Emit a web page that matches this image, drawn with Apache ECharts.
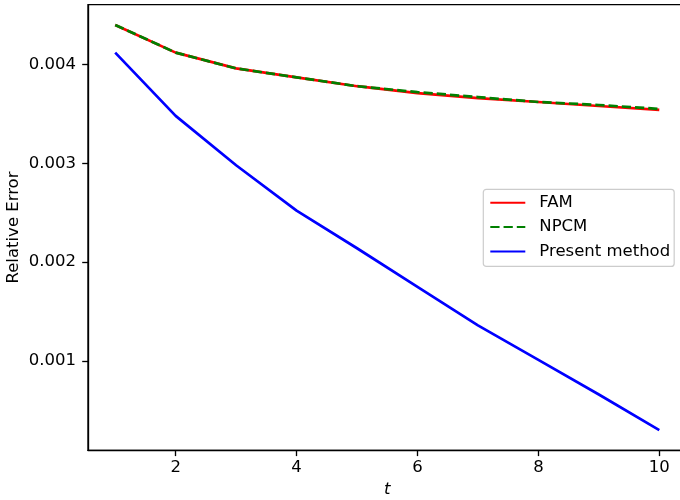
<!DOCTYPE html>
<html>
<head>
<meta charset="utf-8">
<script src="https://cdn.jsdelivr.net/npm/echarts@6/dist/echarts.min.js"></script>
<style>
html,body{margin:0;padding:0;overflow:hidden;background:#fff;width:680px;height:500px;}
#chart{width:700px;height:500px;}
</style>
</head>
<body>
<div id="chart"></div>
<script>
const tValues = [1, 2, 3, 4, 5, 6, 7, 8, 9, 10];
const famValues = [0.00440, 0.00412, 0.00396, 0.00387, 0.00378, 0.00371, 0.00366, 0.00362, 0.00358, 0.00354];
const npcmValues = [0.00440, 0.00412, 0.00396, 0.00387, 0.00378, 0.00372, 0.00367, 0.00362, 0.00359, 0.00355];
const presentValues = [0.00412, 0.00348, 0.00298, 0.00252, 0.00214, 0.00175, 0.00136, 0.00101, 0.00066, 0.00030];
const xTicks = [2, 4, 6, 8, 10];
const yTicks = [0.001, 0.002, 0.003, 0.004];
const seriesNames = ['FAM', 'NPCM', 'Present method'];

const FONT = 'DejaVu Sans';
const FS = 16.5;
const LW = 2.7;
const pairs = arr => tValues.map((t, i) => [t, arr[i]]);

const chart = echarts.init(document.getElementById('chart'), null, {renderer: 'canvas'});
chart.setOption({
  animation: false,
  backgroundColor: '#fff',
  grid: {
    left: 88, top: 4.7, width: 598.5, height: 445.6,
    containLabel: false, outerBoundsMode: 'none',
    show: true, borderColor: '#000', borderWidth: 1.33, backgroundColor: 'transparent'
  },
  legend: {
    orient: 'vertical',
    left: 483.3, top: 189.3,
    data: seriesNames,
    itemWidth: 35, itemHeight: 14, itemGap: 7.3,
    padding: [5, 4, 6.5, 6],
    borderColor: '#cccccc', borderWidth: 1.2, borderRadius: 3,
    backgroundColor: 'rgba(255,255,255,0.8)',
    itemStyle: {opacity: 0},
    textStyle: {fontFamily: FONT, fontSize: FS, color: '#000', padding: [0, 0, 0, 9]},
    selectedMode: false
  },
  xAxis: {
    type: 'value', min: 0.55, max: 10.45,
    name: 't', nameLocation: 'middle', nameGap: 31, nameMoveOverlap: false,
    nameTextStyle: {fontFamily: FONT, fontSize: FS, fontStyle: 'italic', color: '#000'},
    axisLine: {lineStyle: {color: '#000', width: 1.33}},
    axisTick: {show: true, length: 5.8, lineStyle: {color: '#000', width: 1.33}, customValues: xTicks},
    axisLabel: {margin: 9, fontFamily: FONT, fontSize: FS, color: '#000', customValues: xTicks},
    splitLine: {show: false}
  },
  yAxis: {
    type: 'value', min: 0.000095, max: 0.004605,
    name: 'Relative Error', nameLocation: 'middle', nameGap: 66, nameMoveOverlap: false,
    nameTextStyle: {fontFamily: FONT, fontSize: FS, color: '#000'},
    axisLine: {show: true, lineStyle: {color: '#000', width: 1.33}},
    axisTick: {show: true, length: 5.8, lineStyle: {color: '#000', width: 1.33}, customValues: yTicks},
    axisLabel: {margin: 12, fontFamily: FONT, fontSize: FS, color: '#000', customValues: yTicks,
      formatter: v => v.toFixed(3)},
    splitLine: {show: false}
  },
  series: [
    {name: seriesNames[0], type: 'line', data: pairs(famValues), showSymbol: false, symbol: 'none',
     lineStyle: {color: '#ff0000', width: LW}, itemStyle: {color: '#ff0000'}},
    {name: seriesNames[1], type: 'line', data: pairs(npcmValues), showSymbol: false, symbol: 'none',
     lineStyle: {color: '#008000', width: LW, type: [9.25, 4]}, itemStyle: {color: '#008000'}},
    {name: seriesNames[2], type: 'line', data: pairs(presentValues), showSymbol: false, symbol: 'none',
     lineStyle: {color: '#0000ff', width: LW}, itemStyle: {color: '#0000ff'}}
  ]
});
</script>
</body>
</html>
